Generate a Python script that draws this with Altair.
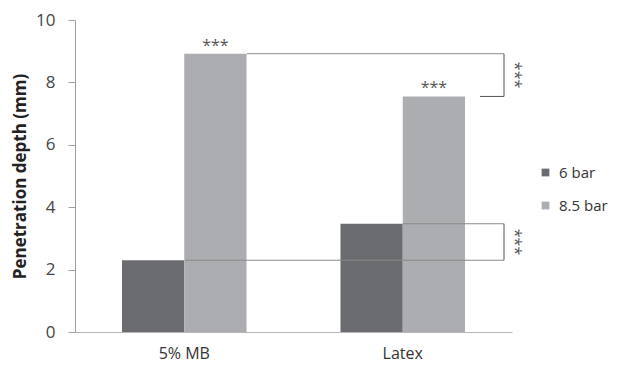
import altair as alt
import pandas as pd

materials = ["5% MB", "Latex"]
series = ["6 bar", "8.5 bar"]
values_6bar = [2.3, 3.47]
values_85bar = [8.92, 7.55]
colors = ["#6b6c70", "#abadb0"]
stars = "***"

rows = []
for m, a, b in zip(materials, values_6bar, values_85bar):
    rows.append({"material": m, "series": series[0], "value": a})
    rows.append({"material": m, "series": series[1], "value": b})
df = pd.DataFrame(rows)

W, H = 437, 312
FONT = "Open Sans"

xscale = alt.Scale(domain=materials, paddingInner=0.43, paddingOuter=0.215)
yscale = alt.Scale(domain=[0, 10])

bars = alt.Chart(df).mark_bar().encode(
    x=alt.X("material:N", scale=xscale, sort=materials,
            axis=alt.Axis(title=None, labelAngle=0, labelFontSize=16, labelColor="#333",
                          labelFont=FONT, ticks=False, domainColor="#b5b5b5", labelPadding=13)),
    xOffset=alt.XOffset("series:N", sort=series),
    y=alt.Y("value:Q", scale=yscale,
            axis=alt.Axis(title="Penetration depth (mm)", values=[0, 2, 4, 6, 8, 10], grid=False,
                          titleFontSize=17, titleFont=FONT, titleFontWeight="bold", titleColor="#222",
                          labelFontSize=17, labelFont=FONT, labelColor="#444", tickSize=7,
                          tickColor="#a0a0a0", domainColor="#a0a0a0", labelPadding=13, titlePadding=6)),
    color=alt.Color("series:N", sort=series, scale=alt.Scale(domain=series, range=colors),
                    legend=alt.Legend(title=None, orient="none", legendX=463, legendY=145,
                                      symbolType="square", symbolSize=60, symbolStrokeWidth=0,
                                      labelFontSize=15, labelFont=FONT, labelColor="#333",
                                      rowPadding=17, labelOffset=6)),
)

top = pd.DataFrame({"material": materials, "series": [series[1]] * 2, "value": values_85bar, "t": [stars] * 2})
star_text = alt.Chart(top).mark_text(dy=-8, fontSize=16, color="#555", font=FONT).encode(
    x=alt.X("material:N", scale=xscale, sort=materials),
    xOffset=alt.XOffset("series:N", sort=series),
    y=alt.Y("value:Q", scale=yscale),
    text="t:N",
)

xr = 429
layers = [bars]
# long horizontal lines from bar edges to the brackets
for yv, x1 in [(values_85bar[0], 172), (values_6bar[0], 110), (values_6bar[1], 328)]:
    layers.append(
        alt.Chart(pd.DataFrame({"y": [yv]})).mark_rule(color="#8a8a8a", strokeWidth=1).encode(
            y=alt.Y("y:Q", scale=yscale), x=alt.value(x1), x2=alt.value(xr))
    )
layers.append(
    alt.Chart(pd.DataFrame({"y": [values_85bar[1]]})).mark_rule(color="#555", strokeWidth=1).encode(
        y=alt.Y("y:Q", scale=yscale), x=alt.value(405), x2=alt.value(xr))
)
brackets = pd.DataFrame({
    "y1": [values_85bar[1], values_6bar[0]],
    "y2": [values_85bar[0], values_6bar[1]],
})
layers.append(
    alt.Chart(brackets).mark_rule(color="#555", strokeWidth=1).encode(
        y=alt.Y("y1:Q", scale=yscale), y2="y2:Q", x=alt.value(xr))
)
brackets["mid"] = (brackets["y1"] + brackets["y2"]) / 2
brackets["t"] = stars
layers.append(star_text)
layers.append(
    alt.Chart(brackets).mark_text(angle=90, fontSize=16, color="#555", font=FONT).encode(
        y=alt.Y("mid:Q", scale=yscale), x=alt.value(xr + 11), text="t:N")
)

chart = alt.layer(*layers).properties(
    width=W, height=H,
    autosize=alt.AutoSizeParams(type="none"),
    padding={"left": 67, "top": 12, "right": 97, "bottom": 31},
).configure(background="white").configure_view(stroke=None)

chart.save("out.html", embed_options={"renderer": "svg", "actions": False})
